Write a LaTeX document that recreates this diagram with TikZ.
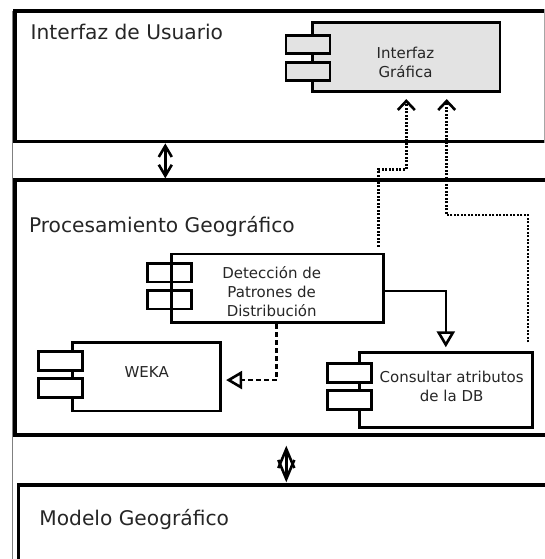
\documentclass[tikz,border=0pt]{standalone}
\usepackage{fontspec}
\setmainfont{DejaVu Sans}
\usetikzlibrary{calc, arrows.meta}

\tikzset{
  paquete/.style={draw=black, line width=3.4pt, inner sep=0pt},
  cuerpo/.style={draw=black, line width=2.8pt, inner sep=0pt, fill=white},
  pestana/.style={draw=black, line width=2.8pt, inner sep=0pt, fill=white,
    minimum width=44pt, minimum height=18.5pt},
  titulo/.style={anchor=base west, inner sep=0pt, text=black!85,
    font=\fontsize{20.2}{24}\selectfont},
  etiqueta/.style={align=center, inner sep=0pt, text=black!85,
    font=\fontsize{15}{19}\selectfont},
  usa/.style={line width=2.5pt, dash pattern=on 2pt off 1.5pt,
    -{Straight Barb[length=9pt, width=17pt, line width=2.6pt]}},
  realiza/.style={line width=2.6pt,
    -{Triangle[length=16pt, width=18pt, line width=2.6pt, fill=white]}},
  capa/.style={line width=2.4pt,
    {Straight Barb[length=11pt, width=13pt, line width=2.6pt]}-{Straight Barb[length=11pt, width=13pt, line width=2.6pt]}},
}

% tabs of a component: body node, x offset, y offset of the first tab
\newcommand{\pestanas}[4][]{%
  \node[pestana, #1] (#2-p1) at ($(#2.north west)+(#3,#4)$) {};
  \node[pestana, #1] (#2-p2) at ($(#2.north west)+(#3,#4+27)$) {};
}

\begin{document}
\begin{tikzpicture}[x=1pt, y=-1pt]

      \clip (0,0) rectangle (545,559);
      \fill[white] (0,0) rectangle (545,559);

      % Packages
      \node[paquete, minimum width=545pt, minimum height=130.7pt] (usuario) at (287.5,76.35) {};
      \node[paquete, minimum width=545pt, minimum height=255pt] (procesamiento) at (287.5,307.5) {};
      \node[paquete, minimum width=541.7pt, minimum height=135pt] (modelo) at (289.15,552.5) {};
      \draw[gray, line width=1pt] (12.7,11) -- (12.7,559);
      \draw[gray!70, line width=1pt] (544.3,9.5) -- (544.3,143.2);

      \node[titulo] (usuario-t) at (30.5,40) {Interfaz de Usuario};
      \node[titulo] (procesamiento-t) at (28.8,232.6) {Procesamiento Geográfico};
      \node[titulo] (modelo-t) at (39.2,525.7) {Modelo Geográfico};

      % Components
      \node[cuerpo, fill=black!11, minimum width=187.3pt, minimum height=69pt] (interfaz) at (406.3,57.2) {};
      \pestanas[fill=black!11]{interfaz}{-3.2}{23.1}
      \node[etiqueta] (interfaz-t) at (405.5,62.5) {Interfaz\\Gráfica};

      \node[cuerpo, minimum width=211.6pt, minimum height=68.7pt] (deteccion) at (277.5,288.35) {};
      \pestanas[fill=none]{deteccion}{-0.85}{20.1}
      \node[etiqueta] (deteccion-t) at (271.7,292) {Detección de\\Patrones de\\Distribución};

      \node[cuerpo, minimum width=148pt, minimum height=68.3pt] (weka) at (146.7,376.85) {};
      \pestanas{weka}{-10.5}{19.8}
      \node[etiqueta] (weka-t) at (146.7,371.7) {WEKA};

      \node[cuerpo, minimum width=173pt, minimum height=74.6pt] (consulta) at (445.8,390) {};
      \pestanas{consulta}{-8.8}{21.8}
      \node[etiqueta] (consulta-t) at (451.7,386) {Consultar atributos\\de la DB};

      % Connectors
      \draw[usa] ($(deteccion.north east)+(-6,-6)$) |- (406.3,169.3) -- ($(interfaz.south)+(0,6)$);
      \draw[usa] ($(consulta.north east)+(-5.6,-9)$) |- (446.7,215) -- ($(interfaz.south)+(40.4,6)$);
      \draw[realiza] ($(deteccion.east)+(0,2.7)$) -| ($(consulta.north)+(0,-4)$);
      \draw[realiza, dash pattern=on 5pt off 3pt] ($(deteccion.south)+(-0.8,0)$) |- ($(weka.east)+(4,3.2)$);

      \draw[capa] ($(usuario.south west)+(152,0)$) -- ($(procesamiento.north west)+(152,0)$);
      \draw[capa, {Straight Barb[length=19pt, width=16pt, line width=2.6pt]}-{Straight Barb[length=19pt, width=16pt, line width=2.6pt]}]
        ($(procesamiento.south west)+(273,9)$) -- ($(modelo.north west)+(269.7,-1)$);

\end{tikzpicture}
\end{document}
